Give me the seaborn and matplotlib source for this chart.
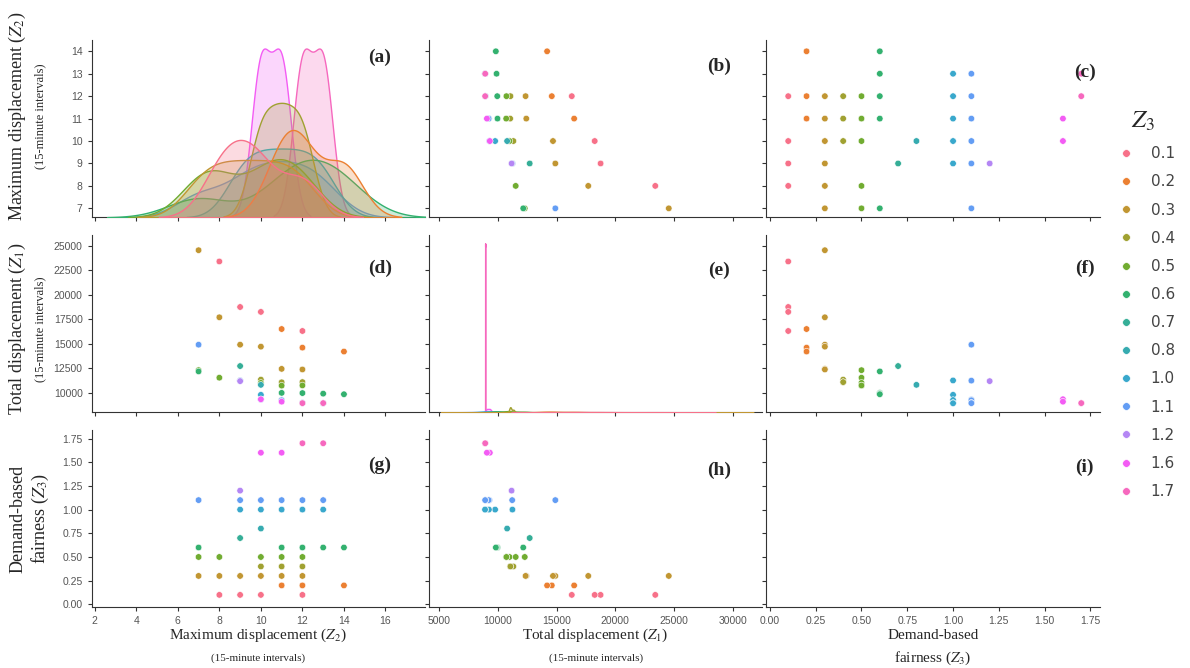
import matplotlib
matplotlib.use("Agg")
import matplotlib.pyplot as plt
import numpy as np
import pandas as pd
import seaborn as sns
from matplotlib.lines import Line2D

# one entry per solution: fairness level (Z3), max displacement (Z2), total displacement (Z1)
z3_levels = ["0.1", "0.2", "0.3", "0.4", "0.5", "0.6", "0.7", "0.8", "1.0", "1.1", "1.2", "1.6", "1.7"]

z3 = [0.1, 0.1, 0.1, 0.1,
      0.2, 0.2, 0.2,
      0.3, 0.3, 0.3, 0.3, 0.3, 0.3,
      0.4, 0.4, 0.4,
      0.5, 0.5, 0.5, 0.5, 0.5,
      0.6, 0.6, 0.6, 0.6, 0.6,
      0.7,
      0.8,
      1.0, 1.0, 1.0, 1.0, 1.0,
      1.1, 1.1, 1.1, 1.1, 1.1, 1.1,
      1.2,
      1.6, 1.6,
      1.7, 1.7]

z2 = [8, 9, 10, 12,
      11, 12, 14,
      7, 8, 9, 10, 11, 12,
      10, 11, 12,
      7, 8, 10, 11, 12,
      7, 11, 12, 13, 14,
      9,
      10,
      9, 10, 11, 12, 13,
      7, 9, 10, 11, 12, 13,
      9,
      10, 11,
      12, 13]

z1 = [23400, 18750, 18250, 16300,
      16500, 14600, 14200,
      24550, 17700, 14900, 14700, 12430, 12370,
      11330, 11060, 11080,
      12300, 11530, 11000, 10720, 10740,
      12170, 9980, 9960, 9900, 9840,
      12720,
      10800,
      11250, 9780, 9250, 8950, 8920,
      14900, 11230, 9290, 9220, 8960, 8930,
      11180,
      9330, 9080,
      8930, 8935]

df = pd.DataFrame({"Z2": z2, "Z1": z1, "Z3": z3})
df["level"] = [f"{v:.1f}" for v in z3]

palette = dict(zip(z3_levels, sns.husl_palette(len(z3_levels))))

sns.set_style("ticks")
plt.rcParams["mathtext.fontset"] = "stix"

g = sns.pairplot(
    df,
    vars=["Z2", "Z1", "Z3"],
    hue="level",
    hue_order=z3_levels,
    palette=palette,
    diag_kind="kde",
    plot_kws=dict(s=22, edgecolor="white", linewidth=0.4),
    diag_kws=dict(common_norm=False, linewidth=1.0, bw_adjust=0.75),
)
g._legend.remove()

# each fairness group is a single value on its own axis, so the last diagonal stays empty
for art in list(g.diag_axes[2].collections) + list(g.diag_axes[2].lines):
    art.remove()

fig = g.figure
fig.set_size_inches(11.9, 6.68)
fig.subplots_adjust(left=0.077, right=0.924, top=0.94, bottom=0.091,
                    wspace=0.012, hspace=0.1)

xlims = [(1.85, 17.9), (4150, 32500), (-0.02, 1.80)]
ylims = [(6.6, 14.5), (8000, 26100), (-0.03, 1.84)]
xticks = [np.arange(2, 17, 2), np.arange(5000, 30001, 5000), np.arange(0, 1.76, 0.25)]
yticks = [np.arange(7, 15, 1), np.arange(10000, 25001, 2500), np.arange(0, 1.76, 0.25)]

letters = "abcdefghi"
letter_pos = [[(0.865, 0.9), (0.87, 0.85), (0.955, 0.82)],
              [(0.865, 0.81), (0.87, 0.8), (0.955, 0.81)],
              [(0.865, 0.8), (0.87, 0.77), (0.955, 0.79)]]

serif = "Liberation Serif"

for i in range(3):
    for j in range(3):
        ax = g.axes[i, j]
        ax.set_xlim(xlims[j])
        ax.set_ylim(ylims[i])
        ax.set_xticks(xticks[j])
        ax.set_yticks(yticks[i])
        ax.set_xlabel("")
        ax.set_ylabel("")
        ax.tick_params(labelsize=7.5, labelcolor="#555555", length=3, width=0.8,
                       color="#333333")
        for sp in ax.spines.values():
            sp.set_color("#333333")
        px, py = letter_pos[i][j]
        ax.text(px, py, f"({letters[3 * i + j]})", transform=ax.transAxes,
                ha="center", va="center", fontsize=14, fontweight="bold",
                family=serif, zorder=10)
        for lab in ax.get_xticklabels() + ax.get_yticklabels():
            lab.set_family("Liberation Sans")

# left-hand labels
left_main = ["Maximum displacement ($Z_2$)", "Total displacement ($Z_1$)", "Demand-based"]
left_sub = ["(15-minute intervals)", "(15-minute intervals)", "fairness ($Z_3$)"]
left_sub_size = [9, 9, 13]
left_y = [0.57, 0.47, 0.5]
for i in range(3):
    ax = g.axes[i, 0]
    ax.text(-0.222, left_y[i], left_main[i], transform=ax.transAxes, rotation=90,
            ha="center", va="center", fontsize=13, family=serif)
    ax.text(-0.155, left_y[i], left_sub[i], transform=ax.transAxes, rotation=90,
            ha="center", va="center", fontsize=left_sub_size[i], family=serif)

# bottom labels
bottom_main = ["Maximum displacement ($Z_2$)", "Total displacement ($Z_1$)", "Demand-based"]
bottom_sub = ["(15-minute intervals)", "(15-minute intervals)", "fairness ($Z_3$)"]
bottom_sub_size = [8, 8, 11]
for j in range(3):
    ax = g.axes[2, j]
    ax.text(0.5, -0.16, bottom_main[j], transform=ax.transAxes,
            ha="center", va="center", fontsize=11, family=serif)
    ax.text(0.5, -0.29, bottom_sub[j], transform=ax.transAxes,
            ha="center", va="center", fontsize=bottom_sub_size[j], family=serif)

handles = [Line2D([], [], marker="o", ls="", color=palette[k], markersize=5.5,
                  markeredgecolor="white", markeredgewidth=0.4) for k in z3_levels]
leg = fig.legend(handles, z3_levels, loc="center left", bbox_to_anchor=(0.922, 0.545),
                 frameon=False, title="$Z_3$", fontsize=11, labelspacing=0.86,
                 handletextpad=0.6)
leg.get_title().set_fontsize(18)
for t in leg.get_texts():
    t.set_color("#444444")

fig.savefig("out.png", dpi=100)
